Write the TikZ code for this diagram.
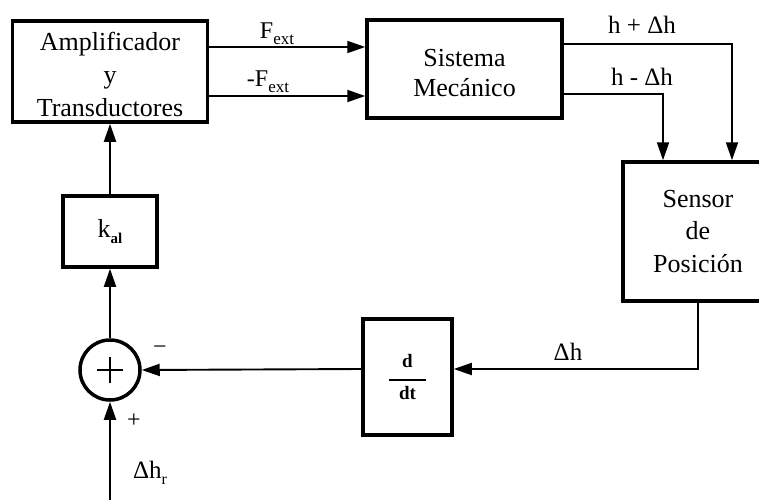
\documentclass[tikz,border=0pt]{standalone}
\usepackage{fontspec}
\setmainfont{Liberation Serif}
\usetikzlibrary{arrows.meta}
% invisible strut that lowers the text of a block
\newcommand\topgap[1]{\rule{0pt}{#1}}
\begin{document}
\begin{tikzpicture}[x=1pt,y=-1pt,
  block/.style={draw, line width=3.5pt, inner sep=0pt, align=center,
    font=\fontsize{26}{32}\selectfont},
  conn/.style={line width=1.9pt, -{Triangle[length=18pt,width=12pt]}},
  lbl/.style={inner sep=0pt, font=\fontsize{25}{30}\selectfont},
  sgn/.style={inner sep=0pt, font=\fontsize{24}{24}\selectfont}]
\useasboundingbox (0,0) rectangle (759,500);

% blocks
\node[block, minimum width=195pt, minimum height=101pt,
  font=\fontsize{26}{33}\selectfont] (amp) at (110,71.5)
  {\topgap{24pt}Amplificador\\y\\Transductores};
\node[block, minimum width=195pt, minimum height=98pt,
  font=\fontsize{26}{30}\selectfont] (sist) at (464.5,69)
  {\topgap{26pt}Sistema\\Mecánico};
\node[block, minimum width=150pt, minimum height=139pt,
  font=\fontsize{26}{32.5}\selectfont] (sens) at (698,231.5)
  {Sensor\\de\\Posición};
\node[block, minimum width=89pt, minimum height=116pt,
  font=\fontsize{19}{21}\selectfont\bfseries] (ddt) at (407.5,377)
  {d\\[-8pt]\rule{37pt}{2pt}\\[-2pt]dt};
\node[block, minimum width=94pt, minimum height=71pt] (kal) at (110,231.5)
  {k\raisebox{-6pt}{\fontsize{15}{15}\selectfont\bfseries al}};

% summing junction
\node[draw, circle, line width=3.5pt, minimum size=60pt, inner sep=0pt] (sum) at (110,370) {};
\draw[line width=2.5pt] ([xshift=-13pt]sum.center) -- ([xshift=13pt]sum.center);
\draw[line width=2.5pt] ([yshift=-13pt]sum.center) -- ([yshift=13pt]sum.center);

% helper points
\coordinate (f1) at (0,47);
\coordinate (f2) at (0,96);
\coordinate (fb) at (0,369);
\coordinate (ref) at (110,500);

% connectors
\draw[conn] (amp.east |- f1) -- (sist.west |- f1);
\draw[conn] (amp.east |- f2) -- (sist.west |- f2);
\draw[conn] ([yshift=25pt]sist.east) -| ([xshift=34pt]sens.north);
\draw[conn] ([yshift=-25pt]sist.east) -| ([xshift=-35pt]sens.north);
\draw[conn] (sens.south) |- (ddt.east |- fb);
\draw[conn] (ddt.west |- fb) -- (sum.east);
\draw[conn] (ref) -- (sum.south);
\draw[conn] (sum.north) -- (kal.south);
\draw[conn] (kal.north) -- (amp.south);

% labels
\node[lbl, font=\fontsize{24}{28}\selectfont] (lf1) at (277,34)
  {F\raisebox{-6pt}{\fontsize{17}{17}\selectfont ext}};
\node[lbl, font=\fontsize{24}{28}\selectfont] (lf2) at (268,82)
  {-F\raisebox{-6pt}{\fontsize{17}{17}\selectfont ext}};
\node[lbl] (lh1) at (642,25) {h + Δh};
\node[lbl] (lh2) at (642,77) {h - Δh};
\node[lbl] (ldh) at (568,352) {Δh};
\node[sgn] (lminus) at (160,350) {−};
\node[sgn] (lplus) at (134,421) {+};
\node[lbl] (lref) at (150,473) {Δh\raisebox{-6pt}{\fontsize{16}{16}\selectfont r}};
\end{tikzpicture}
\end{document}
